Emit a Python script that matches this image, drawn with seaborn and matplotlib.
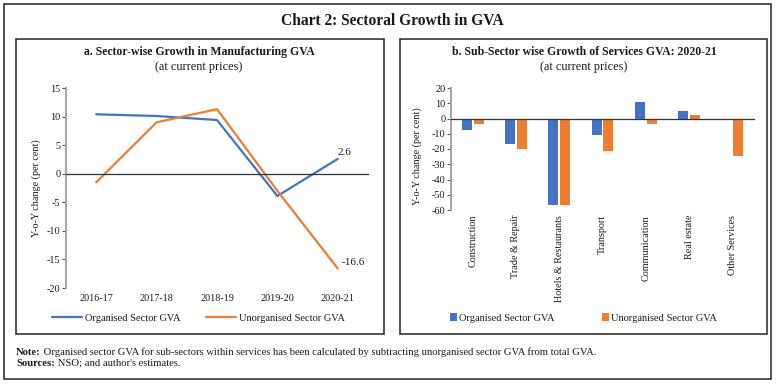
import numpy as np
import pandas as pd
import seaborn as sns
import matplotlib.pyplot as plt
from matplotlib.patches import Rectangle
from matplotlib.transforms import blended_transform_factory

# ---------------- data ----------------
years = ['2016-17', '2017-18', '2018-19', '2019-20', '2020-21']
org_mfg = [10.4, 10.1, 9.4, -3.9, 2.6]
unorg_mfg = [-1.5, 9.0, 11.3, -3.0, -16.6]

sectors = ['Construction', 'Trade & Repair', 'Hotels & Restaurants', 'Transport',
           'Communication', 'Real estate', 'Other Services']
org_srv = [-7.3, -16.8, -56.4, -10.5, 11.1, 4.8, -1.1]
unorg_srv = [-3.3, -20.3, -56.4, -21.4, -3.3, 2.2, -24.6]

series_names = ['Organised Sector GVA', 'Unorganised Sector GVA']
colors = ['#4472C4', '#ED7D31']

df1 = pd.DataFrame({
    'year': years * 2,
    'value': org_mfg + unorg_mfg,
    'series': [series_names[0]] * len(years) + [series_names[1]] * len(years),
})
df2 = pd.DataFrame({
    'sector': sectors * 2,
    'value': org_srv + unorg_srv,
    'series': [series_names[0]] * len(sectors) + [series_names[1]] * len(sectors),
})

# ---------------- style ----------------
sns.set_theme(style='white')
plt.rcParams['font.family'] = ['Liberation Serif', 'DejaVu Serif']
plt.rcParams['axes.unicode_minus'] = False
plt.rcParams['text.color'] = '#1a1a1a'
plt.rcParams['axes.labelcolor'] = '#1a1a1a'
plt.rcParams['xtick.color'] = '#1a1a1a'
plt.rcParams['ytick.color'] = '#1a1a1a'

W, H = 784, 386
fig = plt.figure(figsize=(W / 100, H / 100), dpi=100)


def fx(px):
    return px / W


def fy(py):
    return 1 - py / H


# frames
fig.add_artist(Rectangle((fx(4), fy(379)), fx(771) - fx(4), fy(4) - fy(379),
                         transform=fig.transFigure, fill=False, lw=1.1, ec='#222222'))
for x0, x1 in [(16, 384), (400, 767)]:
    fig.add_artist(Rectangle((fx(x0), fy(334)), fx(x1) - fx(x0), fy(39) - fy(334),
                             transform=fig.transFigure, fill=False, lw=1.1, ec='#222222'))

fig.text(fx(392), fy(21), 'Chart 2: Sectoral Growth in GVA', ha='center', va='center',
         fontsize=11.2, fontweight='bold')

# ---------------- panel a ----------------
ax1 = fig.add_axes([fx(66), fy(288), fx(368) - fx(66), fy(88) - fy(288)])
sns.lineplot(data=df1, x='year', y='value', hue='series', palette=colors, sort=False,
             linewidth=1.6, ax=ax1)
h1, l1 = ax1.get_legend_handles_labels()
ax1.get_legend().remove()
ax1.set_xlim(-0.5, len(years) - 0.5)
ax1.set_ylim(-20, 15)
ax1.set_yticks(np.arange(-20, 16, 5))
ax1.set_xlabel('')
ax1.set_ylabel('Y-o-Y change (per cent)', fontsize=7.3)
ax1.yaxis.set_label_coords(-0.083, 0.5)
for s in ['top', 'right']:
    ax1.spines[s].set_visible(False)
ax1.spines['left'].set_color('#A6A6A6')
ax1.spines['left'].set_linewidth(1.5)
ax1.spines['bottom'].set_position(('data', 0))
ax1.spines['bottom'].set_color('#333333')
ax1.spines['bottom'].set_linewidth(0.9)
ax1.set_xticks(np.arange(-0.5, len(years), 1))
ax1.set_xticklabels([])
ax1.tick_params(axis='x', direction='out', length=3, width=0.8, color='#333333')
ax1.tick_params(axis='y', direction='out', length=3, width=0.8, color='#555555',
                pad=1, labelsize=7.4, left=True)
tr1 = blended_transform_factory(ax1.transData, ax1.transAxes)
for i, y in enumerate(years):
    ax1.text(i, -0.028, y, transform=tr1, ha='center', va='top', fontsize=7.3)
ax1.annotate(f'{org_mfg[-1]}', xy=(len(years) - 1, org_mfg[-1]), xytext=(0, 4.3),
             textcoords='offset points', ha='left', va='center', fontsize=8)
ax1.annotate(f'{unorg_mfg[-1]}', xy=(len(years) - 1, unorg_mfg[-1]), xytext=(2.9, 4.3),
             textcoords='offset points', ha='left', va='center', fontsize=8)

fig.text(fx(199), fy(52), 'a. Sector-wise Growth in Manufacturing GVA', ha='center',
         va='center', fontsize=8.5, fontweight='bold')
fig.text(fx(199), fy(67), '(at current prices)', ha='center', va='center', fontsize=8.8)
fig.legend(h1, l1, loc='center left', bbox_to_anchor=(fx(52), fy(318)), ncol=2,
           frameon=False, handlelength=2.9, handletextpad=0.3, columnspacing=2.4,
           borderpad=0, borderaxespad=0, fontsize=7.5)

# ---------------- panel b ----------------
ax2 = fig.add_axes([fx(451), fy(210), fx(754) - fx(451), fy(88) - fy(210)])
sns.barplot(data=df2, x='sector', y='value', hue='series', palette=colors, width=0.55,
            gap=0.16, saturation=1, linewidth=0, ax=ax2)
h2, l2 = ax2.get_legend_handles_labels()
ax2.get_legend().remove()
ax2.set_xlim(-0.5, len(sectors) - 0.5)
ax2.set_ylim(-60, 20)
ax2.set_yticks(np.arange(-60, 21, 10))
ax2.set_xlabel('')
ax2.set_ylabel('Y-o-Y change (per cent)', fontsize=7.3)
ax2.yaxis.set_label_coords(-0.096, 0.443)
for s in ['top', 'right']:
    ax2.spines[s].set_visible(False)
ax2.spines['left'].set_color('#A6A6A6')
ax2.spines['left'].set_linewidth(1.5)
ax2.spines['bottom'].set_position(('data', 0))
ax2.spines['bottom'].set_color('#333333')
ax2.spines['bottom'].set_linewidth(0.9)
ax2.set_xticks(np.arange(-0.5, len(sectors), 1))
ax2.set_xticklabels([])
ax2.tick_params(axis='x', direction='out', length=3, width=0.8, color='#333333')
ax2.tick_params(axis='y', direction='out', length=3, width=0.8, color='#555555',
                pad=1, labelsize=7.4, left=True)
tr2 = blended_transform_factory(ax2.transData, ax2.transAxes)
for i, s in enumerate(sectors):
    ax2.text(i, -0.04, s, transform=tr2, ha='center', va='top', rotation=90, fontsize=7.3)

fig.text(fx(584), fy(52), 'b. Sub-Sector wise Growth of Services GVA: 2020-21', ha='center',
         va='center', fontsize=8.5, fontweight='bold')
fig.text(fx(584), fy(67), '(at current prices)', ha='center', va='center', fontsize=8.8)
fig.legend(h2, l2, loc='center left', bbox_to_anchor=(fx(450), fy(318)), ncol=2,
           frameon=False, handlelength=0.7, handleheight=0.7, handletextpad=0.2,
           columnspacing=4.5, borderpad=0, borderaxespad=0, fontsize=7.5)

# ---------------- notes ----------------
t1 = fig.text(fx(16), fy(357), 'Note:', ha='left', va='bottom', fontsize=7.7,
              fontweight='bold')
fig.add_artist(plt.Annotation(' Organised sector GVA for sub-sectors within services has been '
                              'calculated by subtracting unorganised sector GVA from total GVA.',
                              xy=(1, 0), xycoords=t1, ha='left', va='bottom', fontsize=7.7))
t2 = fig.text(fx(16), fy(368), 'Sources:', ha='left', va='bottom', fontsize=7.7,
              fontweight='bold')
fig.add_artist(plt.Annotation(" NSO; and author's estimates.", xy=(1, 0), xycoords=t2,
                              ha='left', va='bottom', fontsize=7.7))

fig.savefig('out.png', dpi=100)
